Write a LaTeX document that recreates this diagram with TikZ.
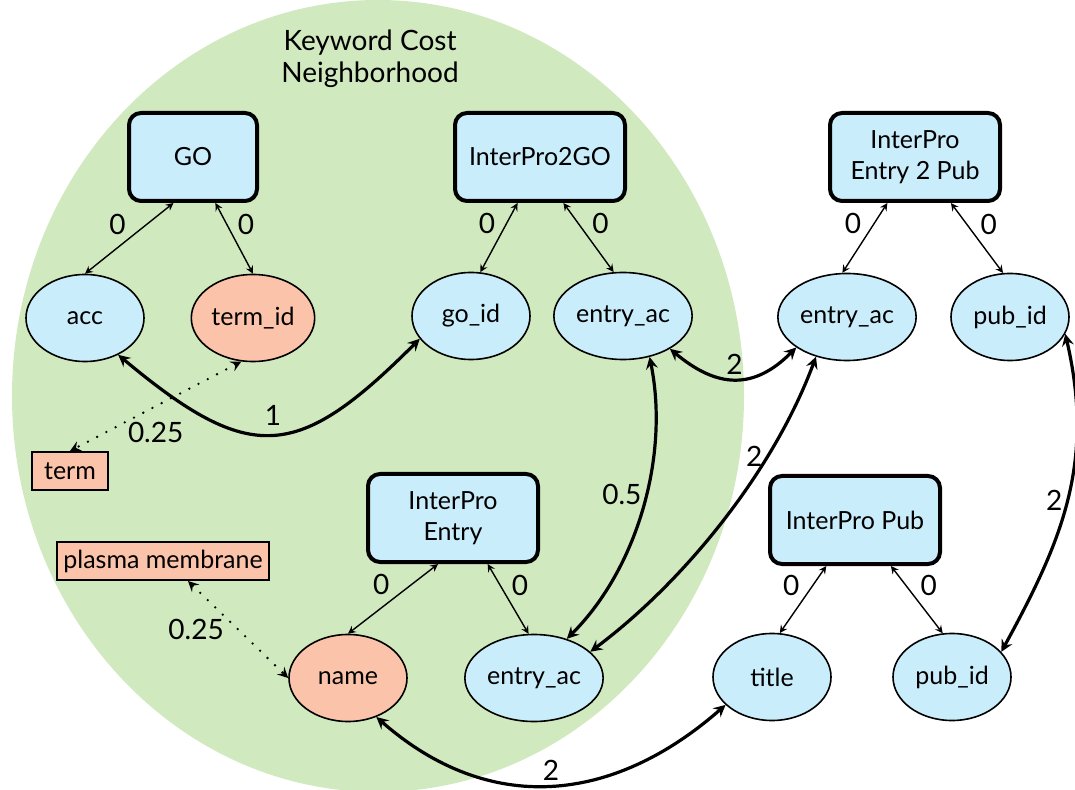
\documentclass[tikz,border=0pt]{standalone}
\usepackage{fontspec}
\setmainfont{Lato}
\usetikzlibrary{shapes.geometric, arrows, positioning}

\definecolor{tableblue}{RGB}{202,237,251}
\definecolor{hitsalmon}{RGB}{251,196,170}
\definecolor{hoodgreen}{RGB}{209,233,190}

\begin{document}
\begin{tikzpicture}[
        x=0.5pt, y=-0.5pt,
        font=\fontsize{12.5}{15.5}\selectfont,
        >=stealth,
        tablebox/.style={rectangle, rounded corners=6pt, draw, line width=2pt, fill=tableblue, minimum width=85pt, minimum height=44pt, align=center},
        attrnode/.style={ellipse, draw, line width=0.8pt, fill=tableblue, minimum width=59pt, minimum height=43.5pt, inner sep=1pt},
        hitnode/.style={attrnode, fill=hitsalmon},
        keyword/.style={rectangle, draw, line width=1pt, fill=hitsalmon, minimum height=19pt, inner xsep=3pt},
        link/.style={<->, line width=0.7pt},
        joinedge/.style={<->, line width=1.6pt},
        simedge/.style={<->, line width=1.3pt, dash pattern=on 0pt off 5.2pt, line cap=round},
        cost/.style={inner sep=1.5pt, font=\fontsize{14}{16}\selectfont}
    ]
        \useasboundingbox (0,0) rectangle (1075,790);
        \fill[hoodgreen] (378,396) ellipse (366 and 396);
        \node[align=center, font=\fontsize{14}{16}\selectfont] (hood) at (370,59) {Keyword Cost\\Neighborhood};

        % tables
        \node[tablebox, minimum width=64pt] (go) at (193,157) {GO};
        \node[tablebox] (ip2go) at (540,157) {InterPro2GO};
        \node[tablebox] (ipe2p) at (915,157) {InterPro\\Entry 2 Pub};
        \node[tablebox] (ipe) at (453,518) {InterPro\\Entry};
        \node[tablebox] (ipp) at (855,520) {InterPro Pub};

        % attributes
        \node[attrnode] (acc) at (85,318) {acc};
        \node[hitnode] (termid) at (253,318) {term\_id};
        \node[attrnode] (goid) at (471,316) {go\_id};
        \node[attrnode] (ipgoentry) at (623,316) {entry\_ac};
        \node[attrnode] (pubentry) at (847,317) {entry\_ac};
        \node[attrnode] (pubid) at (1010,317) {pub\_id};
        \node[hitnode] (name) at (348,678) {name};
        \node[attrnode] (entry) at (534,678) {entry\_ac};
        \node[attrnode] (title) at (772,677) {title};
        \node[attrnode] (ippubid) at (952,677) {pub\_id};

        % keywords
        \node[keyword, inner xsep=6pt] (term) at (70,471) {term};
        \node[keyword] (plasma) at (163,561) {plasma membrane};

        \draw[link] (go.-113) -- node[cost, above left] {0} (acc.north);
        \draw[link] (go.-64) -- node[cost, above right] {0} (termid.north);
        \draw[link] (ip2go.-116) -- node[cost, above left] {0} (goid.78);
        \draw[link] (ip2go.-63) -- node[cost, above right] {0} (ipgoentry.102);
        \draw[link] (ipe2p.-121) -- node[cost, above left] {0} (pubentry.96);
        \draw[link] (ipe2p.-52) -- node[cost, above right] {0} (pubid.99);
        \draw[link] (ipe.-108) -- node[cost, above left] {0} (name.north);
        \draw[link] (ipe.-53) -- node[cost, above right] {0} (entry.97);
        \draw[link] (ipp.-122) -- node[cost, above left] {0} (title.80);
        \draw[link] (ipp.-52) -- node[cost, above right] {0} (ippubid.102);

        \draw[simedge] (termid.-105) -- node[cost, below=6pt] {0.25} (term.north);
        \draw[simedge] ([xshift=12.5pt]plasma.south) -- node[cost, left=5pt] {0.25} (name.west);

        \draw[joinedge] (acc.-48) .. controls +(133,111) and +(-122,122) .. node[cost, above=2pt] {1} (goid.-156);
        \draw[joinedge] (ipgoentry.-35) .. controls +(47,39) and +(-43,43) .. node[cost, above] {2} (pubentry.-149);
        \draw[joinedge] (ipgoentry.-57) .. controls +(20,100) and +(70,-70) .. node[cost, pos=.45, left] {0.5} (entry.50);
        \draw[joinedge] (pubentry.-128) .. controls +(-42,113) and +(96,-72) .. node[cost, pos=.3, left] {2} (entry.25);
        \draw[joinedge] (pubid.-17) .. controls +(30,130) and +(60,-110) .. node[cost, left] {2} (ippubid.27);
        \draw[joinedge] (name.-54) .. controls +(113,99) and +(-113,99) .. node[cost, above] {2} (title.-149);
    \end{tikzpicture}
\end{document}
